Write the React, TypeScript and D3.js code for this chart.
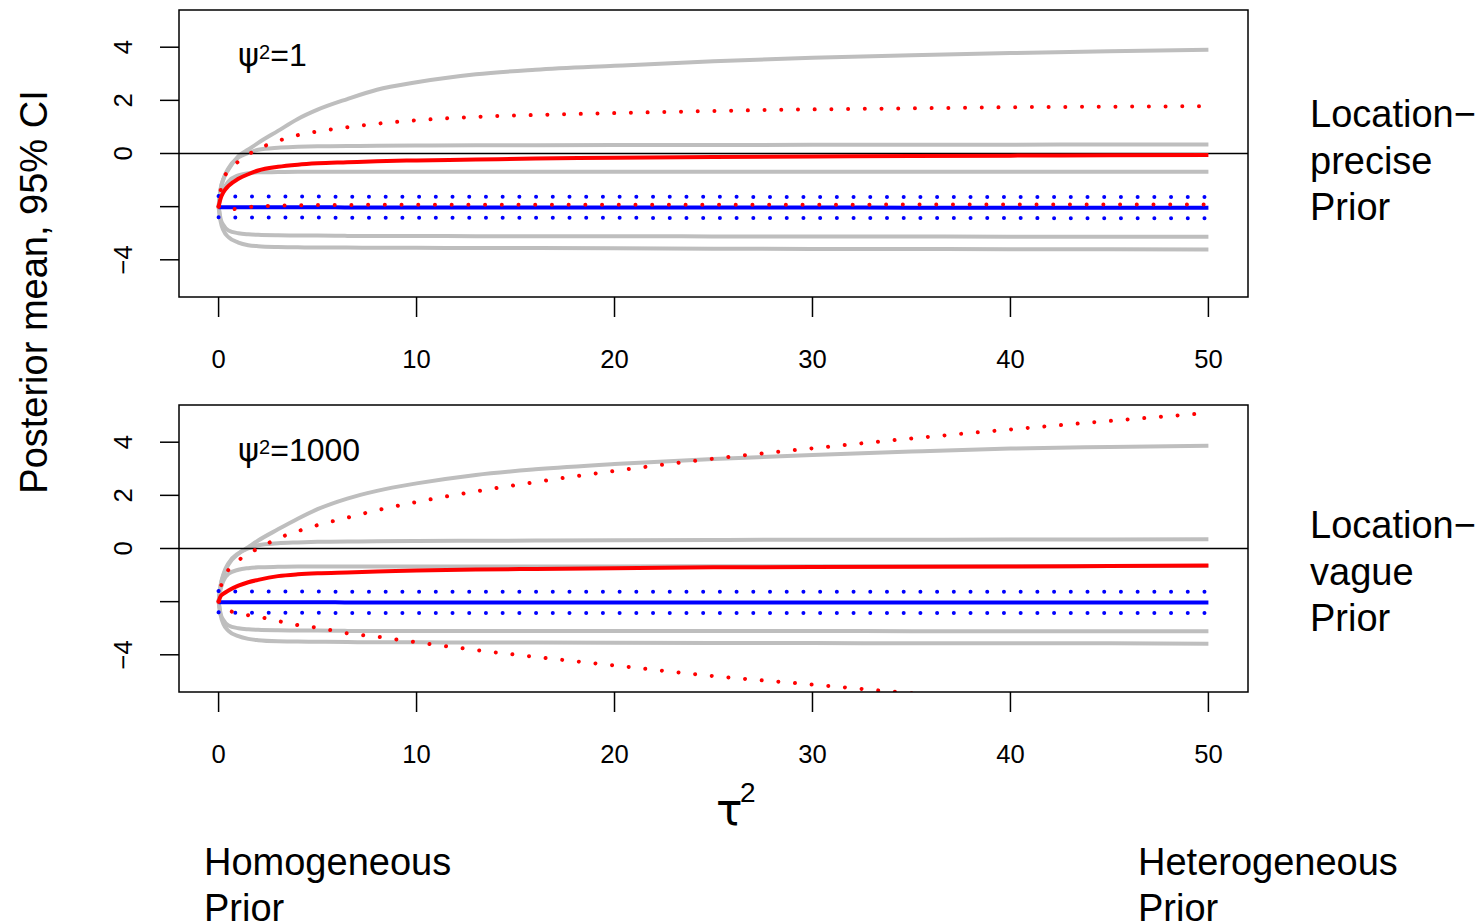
import React from "react";
import * as d3 from "d3";

// ---------- data ----------
const tau2 = [0, 0.1, 0.25, 0.5, 1, 1.5, 2, 3, 4, 5, 6.5, 8, 10, 13, 16, 20, 25, 30, 35, 40, 45, 50];

const xTicks = [0, 10, 20, 30, 40, 50];
const yTicks = [-4, -2, 0, 2, 4];
const yTickLabels = ["−4", "", "0", "2", "4"];

// Panel 1: psi^2 = 1 (location-precise prior)
const p1RedMean = [-2, -1.7, -1.45, -1.22, -0.95, -0.78, -0.64, -0.5, -0.42, -0.37, -0.33, -0.29, -0.26, -0.23, -0.19, -0.16, -0.13, -0.11, -0.09, -0.08, -0.07, -0.06];
const p1RedUpper = [-2, -1.4, -0.95, -0.66, -0.3, -0.04, 0.17, 0.47, 0.69, 0.83, 0.99, 1.12, 1.25, 1.38, 1.45, 1.52, 1.6, 1.66, 1.7, 1.74, 1.76, 1.78];
const p1RedLower = [-2, -2.06, -2.09, -2.1, -2.08, -2.02, -1.99, -1.96, -1.95, -1.94, -1.94, -1.93, -1.93, -1.93, -1.93, -1.93, -1.93, -1.93, -1.92, -1.92, -1.92, -1.92];
const p1BlueMean = [-2.02, -2.02, -2.02, -2.02, -2.02, -2.02, -2.02, -2.02, -2.02, -2.02, -2.03, -2.03, -2.03, -2.03, -2.03, -2.03, -2.03, -2.03, -2.04, -2.04, -2.04, -2.04];
const p1BlueUpper = [-1.6, -1.61, -1.61, -1.61, -1.62, -1.62, -1.62, -1.62, -1.62, -1.62, -1.63, -1.63, -1.63, -1.63, -1.63, -1.63, -1.63, -1.64, -1.64, -1.64, -1.64, -1.64];
const p1BlueLower = [-2.4, -2.4, -2.4, -2.4, -2.41, -2.41, -2.41, -2.41, -2.41, -2.41, -2.42, -2.42, -2.42, -2.42, -2.42, -2.42, -2.43, -2.43, -2.43, -2.43, -2.44, -2.44];
const p1Grey1 = [-2, -1.35, -0.95, -0.6, -0.1, 0.15, 0.4, 0.85, 1.3, 1.65, 2.05, 2.4, 2.68, 2.98, 3.15, 3.3, 3.47, 3.6, 3.7, 3.78, 3.85, 3.9];
const p1Grey2 = [-2, -1.35, -0.95, -0.55, -0.15, 0.02, 0.14, 0.22, 0.25, 0.27, 0.28, 0.29, 0.3, 0.31, 0.31, 0.32, 0.32, 0.33, 0.33, 0.33, 0.34, 0.34];
const p1Grey3 = [-2, -1.6, -1.33, -1.05, -0.82, -0.74, -0.71, -0.7, -0.69, -0.69, -0.69, -0.69, -0.69, -0.69, -0.69, -0.69, -0.69, -0.69, -0.69, -0.69, -0.69, -0.69];
const p1Grey4 = [-2, -2.45, -2.7, -2.9, -3.0, -3.04, -3.06, -3.08, -3.09, -3.09, -3.1, -3.1, -3.1, -3.11, -3.11, -3.11, -3.12, -3.12, -3.12, -3.13, -3.13, -3.13];
const p1Grey5 = [-2, -2.55, -2.9, -3.15, -3.35, -3.45, -3.49, -3.52, -3.53, -3.54, -3.54, -3.55, -3.55, -3.56, -3.56, -3.57, -3.58, -3.59, -3.59, -3.6, -3.6, -3.61];

// Panel 2: psi^2 = 1000 (location-vague prior)
const p2RedMean = [-2, -1.8, -1.7, -1.58, -1.4, -1.27, -1.18, -1.04, -0.97, -0.93, -0.9, -0.87, -0.83, -0.79, -0.77, -0.74, -0.71, -0.7, -0.69, -0.68, -0.66, -0.64];
const p2RedUpper = [-2, -1.5, -1.12, -0.8, -0.45, -0.19, 0.0, 0.38, 0.65, 0.88, 1.16, 1.44, 1.75, 2.15, 2.5, 2.92, 3.38, 3.77, 4.14, 4.48, 4.8, 5.1];
const p2RedLower = [-2, -2.1, -2.2, -2.32, -2.44, -2.51, -2.57, -2.73, -2.88, -2.98, -3.19, -3.32, -3.53, -3.82, -4.08, -4.4, -4.8, -5.12, -5.45, -5.78, -6.1, -6.4];
const p2BlueMean = [-2.02, -2.02, -2.02, -2.02, -2.02, -2.02, -2.02, -2.02, -2.02, -2.02, -2.03, -2.03, -2.03, -2.03, -2.03, -2.03, -2.03, -2.03, -2.03, -2.03, -2.03, -2.03];
const p2BlueUpper = [-1.6, -1.61, -1.61, -1.61, -1.62, -1.62, -1.62, -1.62, -1.62, -1.62, -1.63, -1.63, -1.63, -1.63, -1.63, -1.63, -1.63, -1.63, -1.63, -1.63, -1.63, -1.63];
const p2BlueLower = [-2.4, -2.41, -2.41, -2.41, -2.42, -2.42, -2.42, -2.42, -2.42, -2.42, -2.43, -2.43, -2.43, -2.43, -2.43, -2.43, -2.43, -2.43, -2.43, -2.43, -2.43, -2.43];
const p2Grey1 = [-2, -1.4, -1.0, -0.6, -0.2, 0.05, 0.3, 0.72, 1.12, 1.48, 1.88, 2.17, 2.45, 2.77, 2.98, 3.18, 3.37, 3.52, 3.65, 3.76, 3.82, 3.87];
const p2Grey2 = [-2, -1.4, -0.95, -0.55, -0.18, 0.0, 0.12, 0.2, 0.23, 0.25, 0.26, 0.27, 0.28, 0.29, 0.3, 0.31, 0.32, 0.33, 0.33, 0.34, 0.34, 0.35];
const p2Grey3 = [-2, -1.55, -1.2, -0.95, -0.8, -0.74, -0.71, -0.69, -0.68, -0.68, -0.68, -0.68, -0.68, -0.68, -0.68, -0.68, -0.67, -0.67, -0.67, -0.67, -0.66, -0.66];
const p2Grey4 = [-2, -2.45, -2.7, -2.9, -3.0, -3.04, -3.06, -3.08, -3.09, -3.09, -3.1, -3.1, -3.1, -3.1, -3.1, -3.1, -3.1, -3.1, -3.11, -3.11, -3.11, -3.11];
const p2Grey5 = [-2, -2.5, -2.85, -3.1, -3.3, -3.4, -3.45, -3.49, -3.5, -3.51, -3.52, -3.53, -3.53, -3.54, -3.54, -3.55, -3.56, -3.56, -3.57, -3.57, -3.57, -3.58];

const panels = [
  {
    id: "p1",
    top: 10,
    psiLabel: "1",
    sideLabel: ["Location−", "precise", "Prior"],
    grey: [p1Grey1, p1Grey2, p1Grey3, p1Grey4, p1Grey5],
    blue: { mean: p1BlueMean, upper: p1BlueUpper, lower: p1BlueLower },
    red: { mean: p1RedMean, upper: p1RedUpper, lower: p1RedLower },
  },
  {
    id: "p2",
    top: 405,
    psiLabel: "1000",
    sideLabel: ["Location−", "vague", "Prior"],
    grey: [p2Grey1, p2Grey2, p2Grey3, p2Grey4, p2Grey5],
    blue: { mean: p2BlueMean, upper: p2BlueUpper, lower: p2BlueLower },
    red: { mean: p2RedMean, upper: p2RedUpper, lower: p2RedLower },
  },
];

// ---------- layout ----------
const W = 1481;
const H = 924;
const BOX_L = 179;
const BOX_R = 1248;
const BOX_H = 287;
const FONT = "'Liberation Sans', Arial, Helvetica, sans-serif";
const GREEK = "'DejaVu Sans', 'Liberation Sans', sans-serif";
const GREY = "#BEBEBE";
const RED = "#FF0000";
const BLUE = "#0000FF";

const x = d3.scaleLinear().domain([-2, 52]).range([BOX_L, BOX_R]);

function Panel({ p }: { p: (typeof panels)[number] }) {
  const top = p.top;
  const bottom = top + BOX_H;
  const y = d3.scaleLinear().domain([-5.4, 5.4]).range([bottom, top]);
  const line = d3
    .line<number>()
    .x((_, i) => x(tau2[i]))
    .y((v) => y(v))
    .curve(d3.curveMonotoneX);
  const clipId = `clip-${p.id}`;
  const dotted = { strokeDasharray: "0.01 16.7", strokeLinecap: "round" as const };
  return (
    <g>
      <defs>
        <clipPath id={clipId}>
          <rect x={BOX_L} y={top} width={BOX_R - BOX_L} height={BOX_H} />
        </clipPath>
      </defs>
      <g clipPath={`url(#${clipId})`} fill="none">
        {p.grey.map((s, i) => (
          <path key={i} d={line(s) || ""} stroke={GREY} strokeWidth={4} />
        ))}
        <line x1={BOX_L} x2={BOX_R} y1={y(0)} y2={y(0)} stroke="#000" strokeWidth={1.5} />
        <path d={line(p.blue.mean) || ""} stroke={BLUE} strokeWidth={4} />
        <path d={line(p.blue.upper) || ""} stroke={BLUE} strokeWidth={4} {...dotted} />
        <path d={line(p.blue.lower) || ""} stroke={BLUE} strokeWidth={4} {...dotted} />
        <path d={line(p.red.mean) || ""} stroke={RED} strokeWidth={4} />
        <path d={line(p.red.upper) || ""} stroke={RED} strokeWidth={4} {...dotted} />
        <path d={line(p.red.lower) || ""} stroke={RED} strokeWidth={4} {...dotted} />
      </g>
      <rect x={BOX_L} y={top} width={BOX_R - BOX_L} height={BOX_H} fill="none" stroke="#000" strokeWidth={1.5} />
      {/* y axis */}
      {yTicks.map((t, i) => (
        <g key={t}>
          <line x1={BOX_L - 19} x2={BOX_L} y1={y(t)} y2={y(t)} stroke="#000" strokeWidth={1.5} />
          {yTickLabels[i] && (
            <text
              transform={`translate(132,${y(t)}) rotate(-90)`}
              textAnchor="middle"
              fontSize={25.6}
              fontFamily={FONT}
            >
              {yTickLabels[i]}
            </text>
          )}
        </g>
      ))}
      {/* x axis */}
      {xTicks.map((t) => (
        <g key={t}>
          <line x1={x(t)} x2={x(t)} y1={bottom} y2={bottom + 20} stroke="#000" strokeWidth={1.5} />
          <text x={x(t)} y={bottom + 71} textAnchor="middle" fontSize={25.6} fontFamily={FONT}>
            {t}
          </text>
        </g>
      ))}
      {/* psi label */}
      <text x={238} y={top + 56} fontSize={32} fontFamily={FONT}>
        <tspan fontFamily={GREEK}>ψ</tspan>
        <tspan fontSize={20} dy={-7}>2</tspan>
        <tspan dy={7}>={p.psiLabel}</tspan>
      </text>
      {/* side label */}
      <text fontSize={38} fontFamily={FONT}>
        {p.sideLabel.map((s, i) => (
          <tspan key={i} x={1310} y={top + (p.id === "p1" ? 117 : 133) + i * 46.7}>
            {s}
          </tspan>
        ))}
      </text>
    </g>
  );
}

export default function App() {
  return (
    <svg
      width={W}
      height={H}
      style={{ position: "absolute", left: 0, top: 0, display: "block", background: "#fff" }}
    >
      <rect x={0} y={0} width={W} height={H} fill="#fff" />
      {panels.map((p) => (
        <Panel key={p.id} p={p} />
      ))}
      <text
        transform="translate(47,292) rotate(-90)"
        textAnchor="middle"
        fontSize={38}
        fontFamily={FONT}
      >
        Posterior mean, 95% CI
      </text>
      <text x={716} y={825} fontSize={44} fontFamily={GREEK}>
        τ
      </text>
      <text x={740} y={802} fontSize={28} fontFamily={FONT}>
        2
      </text>
      <text fontSize={38} fontFamily={FONT}>
        <tspan x={204} y={875}>Homogeneous</tspan>
        <tspan x={204} y={921}>Prior</tspan>
      </text>
      <text fontSize={38} fontFamily={FONT}>
        <tspan x={1138} y={875}>Heterogeneous</tspan>
        <tspan x={1138} y={921}>Prior</tspan>
      </text>
    </svg>
  );
}
